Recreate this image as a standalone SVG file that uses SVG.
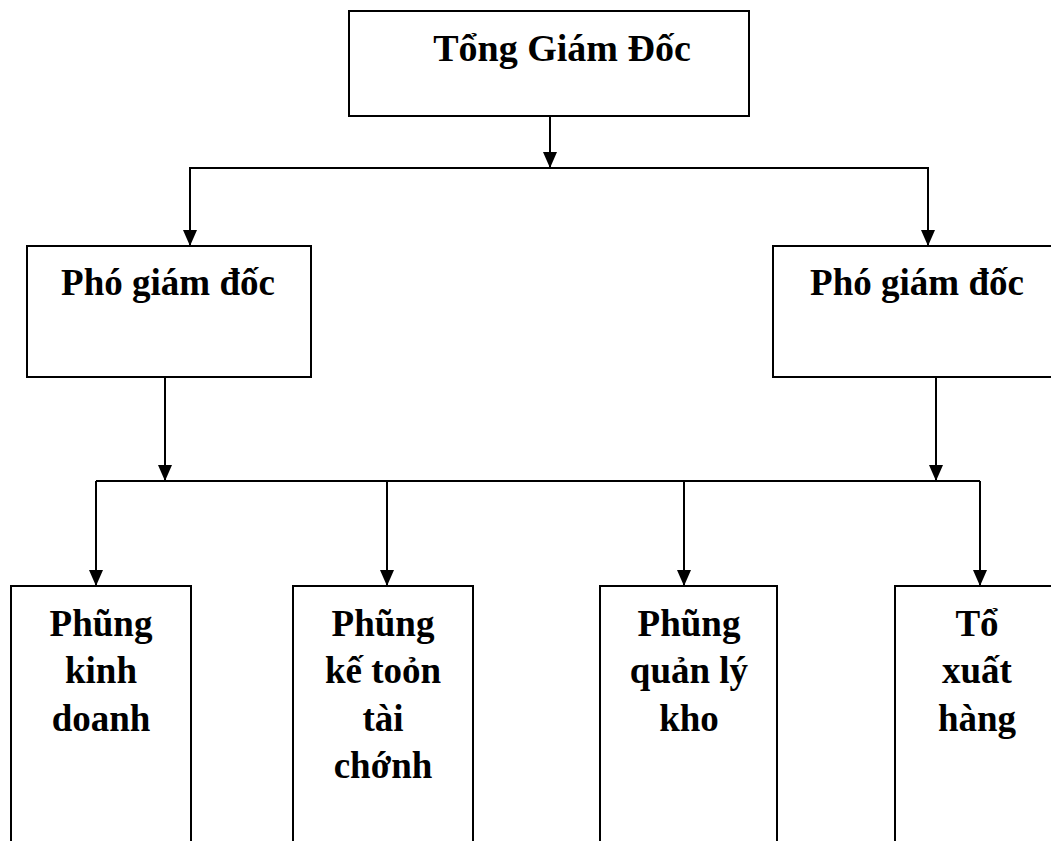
<svg xmlns="http://www.w3.org/2000/svg" width="1051" height="841" viewBox="0 0 1051 841">
<style>
.box{fill:#fff;stroke:#000;stroke-width:2}
.t{font-family:"Liberation Serif","Times New Roman",serif;font-weight:bold;font-size:37px;fill:#000;text-anchor:middle}
.c{fill:none;stroke:#000;stroke-width:2}
.ah{fill:#000}
</style>
<rect width="1051" height="841" fill="#fff"/>
<g id="connectors">
<line class="c" x1="550" y1="116" x2="550" y2="168"/>
<path class="c" d="M189,168 H929"/>
<line class="c" x1="190" y1="168" x2="190" y2="246"/>
<line class="c" x1="928" y1="168" x2="928" y2="246"/>
<line class="c" x1="165" y1="377" x2="165" y2="481"/>
<line class="c" x1="936" y1="377" x2="936" y2="481"/>
<path class="c" d="M96,481 H980"/>
<line class="c" x1="96" y1="481" x2="96" y2="586"/>
<line class="c" x1="387" y1="481" x2="387" y2="586"/>
<line class="c" x1="684" y1="481" x2="684" y2="586"/>
<line class="c" x1="980" y1="481" x2="980" y2="586"/>
<g class="ah">
<path d="M543,152 L557,152 L550,168 Z"/>
<path d="M183,230 L197,230 L190,246 Z"/>
<path d="M921,230 L935,230 L928,246 Z"/>
<path d="M158,465 L172,465 L165,481 Z"/>
<path d="M929,465 L943,465 L936,481 Z"/>
<path d="M89,570 L103,570 L96,586 Z"/>
<path d="M380,570 L394,570 L387,586 Z"/>
<path d="M677,570 L691,570 L684,586 Z"/>
<path d="M973,570 L987,570 L980,586 Z"/>
</g>
</g>
<g id="tgd">
<rect class="box" x="349" y="11" width="400" height="105"/>
<text class="t" x="562" y="61" style="font-size:38px">Tổng Giám Đốc</text>
</g>
<g id="pgd1">
<rect class="box" x="27" y="246" width="284" height="131"/>
<text class="t" x="168" y="295">Phó giám đốc</text>
</g>
<g id="pgd2">
<rect class="box" x="773" y="246" width="290" height="131"/>
<text class="t" x="917" y="295">Phó giám đốc</text>
</g>
<g id="kd">
<rect class="box" x="11" y="586" width="180" height="280"/>
<text class="t" x="101" y="636">Phũng</text>
<text class="t" x="101" y="683">kinh</text>
<text class="t" x="101" y="731">doanh</text>
</g>
<g id="kt">
<rect class="box" x="293" y="586" width="180" height="280"/>
<text class="t" x="383" y="636">Phũng</text>
<text class="t" x="383" y="683">kế toỏn</text>
<text class="t" x="383" y="731">tài</text>
<text class="t" x="383" y="778">chớnh</text>
</g>
<g id="kho">
<rect class="box" x="600" y="586" width="177" height="280"/>
<text class="t" x="689" y="636">Phũng</text>
<text class="t" x="689" y="683">quản lý</text>
<text class="t" x="689" y="731">kho</text>
</g>
<g id="xh">
<rect class="box" x="895" y="586" width="180" height="280"/>
<text class="t" x="977" y="636">Tổ</text>
<text class="t" x="977" y="683">xuất</text>
<text class="t" x="977" y="731">hàng</text>
</g>
</svg>
